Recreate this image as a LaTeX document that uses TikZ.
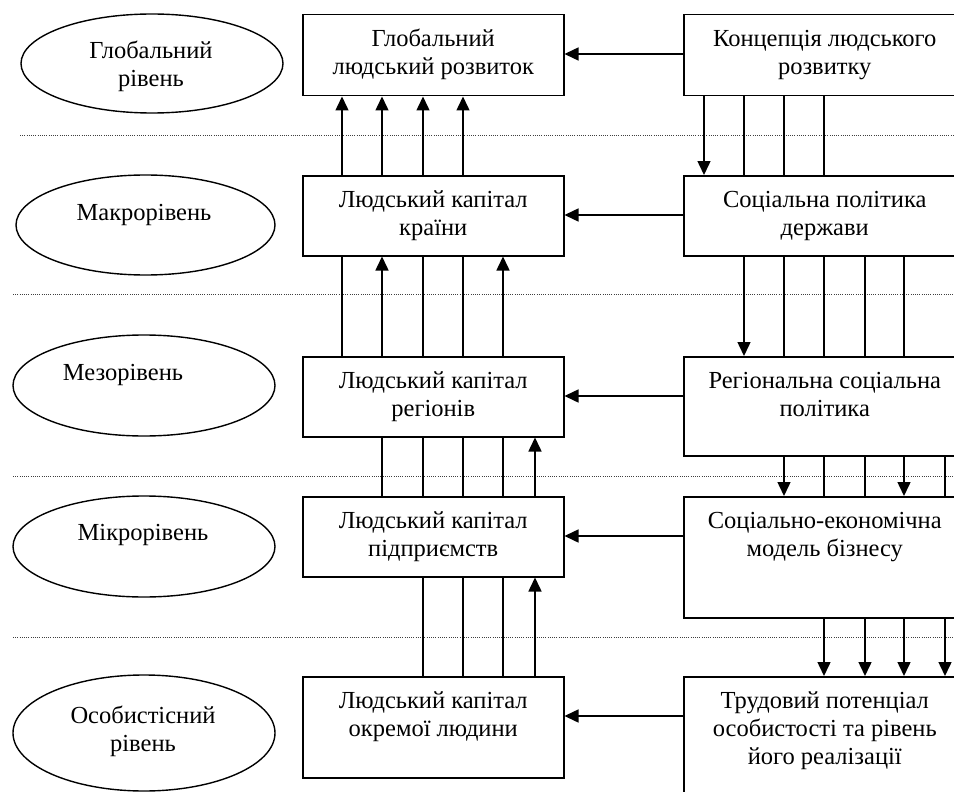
\documentclass[tikz,border=0pt]{standalone}
\usepackage{fontspec}
\setmainfont{Liberation Serif}
\usetikzlibrary{arrows.meta,shapes.geometric}
\newcommand{\fs}{\rule{0pt}{23pt}}
\begin{document}
\begin{tikzpicture}[x=1pt,y=-1pt,
  box/.style={draw, line width=1.5pt, rectangle, inner sep=0pt, anchor=north west},
  lvl/.style={draw, line width=1.4pt, ellipse, inner sep=0pt},
  txt/.style={align=center, inner sep=0pt, font=\fontsize{24.5}{28}\selectfont},
  etxt/.style={txt, anchor=north},
  btxt/.style={txt, anchor=north, yshift=-9pt},
  con/.style={line width=1.5pt},
  arr/.style={con, -{Triangle[length=14pt,width=13pt]}},
  sep/.style={line width=0.7pt, dash pattern=on 1pt off 1.2pt, black!75}
]
\useasboundingbox (0,0) rectangle (954,792);
\clip (0,0) rectangle (954,792);

% separators
\draw[sep] (20,135) -- (954,135);
\draw[sep] (13,294) -- (954,294);
\draw[sep] (13,476) -- (954,476);
\draw[sep] (13,637) -- (954,637);

% level ellipses
\node[lvl, minimum width=262pt, minimum height=99pt] (e1) at (152,63.5) {};
\node[lvl, minimum width=259pt, minimum height=100pt] (e2) at (145.5,225) {};
\node[lvl, minimum width=262pt, minimum height=101pt] (e3) at (144,385.5) {};
\node[lvl, minimum width=262pt, minimum height=101pt] (e4) at (144,546.5) {};
\node[lvl, minimum width=262pt, minimum height=116pt] (e5) at (144,733) {};
\node[etxt] at (151,35) {\fs Глобальний\\рівень};
\node[etxt] at (144,197) {\fs Макрорівень};
\node[etxt] at (123,357) {\fs Мезорівень};
\node[etxt] at (143,517) {\fs Мікрорівень};
\node[etxt] at (143,700) {\fs Особистісний\\рівень};

% left boxes
\node[box, minimum width=261pt, minimum height=81pt] (l1) at (302,14) {};
\node[box, minimum width=261pt, minimum height=80pt] (l2) at (302,175) {};
\node[box, minimum width=261pt, minimum height=80pt] (l3) at (302,356) {};
\node[box, minimum width=261pt, minimum height=80pt] (l4) at (302,496) {};
\node[box, minimum width=261pt, minimum height=101pt] (l5) at (302,676) {};
\node[btxt] at (l1.north) {\fs Глобальний\\людський розвиток};
\node[btxt] at (l2.north) {\fs Людський капітал\\країни};
\node[btxt] at (l3.north) {\fs Людський капітал\\регіонів};
\node[btxt] at (l4.north) {\fs Людський капітал\\підприємств};
\node[btxt] at (l5.north) {\fs Людський капітал\\окремої людини};

% right boxes
\node[box, minimum width=282pt, minimum height=81pt] (r1) at (683,14) {};
\node[box, minimum width=282pt, minimum height=80pt] (r2) at (683,175) {};
\node[box, minimum width=282pt, minimum height=99pt] (r3) at (683,356) {};
\node[box, minimum width=282pt, minimum height=121pt] (r4) at (683,496) {};
\node[box, minimum width=282pt, minimum height=140pt] (r5) at (683,676) {};
\node[btxt] at (r1.north) {\fs Концепція людського\\розвитку};
\node[btxt] at (r2.north) {\fs Соціальна політика\\держави};
\node[btxt] at (r3.north) {\fs Регіональна соціальна\\політика};
\node[btxt] at (r4.north) {\fs Соціально-економічна\\модель бізнесу};
\node[btxt] at (r5.north) {\fs Трудовий потенціал\\особистості та рівень\\його реалізації};

% horizontal arrows
\foreach \i in {1,...,5}
  \draw[arr] ([yshift=-40pt]r\i.north west) -- ([yshift=-40pt]l\i.north east);

% left verticals
\foreach \o in {40,80,121,161}
  \draw[arr] ([xshift=\o pt]l2.north west) -- ([xshift=\o pt]l1.south west);
\foreach \o in {40,121,161}
  \draw[con] ([xshift=\o pt]l3.north west) -- ([xshift=\o pt]l2.south west);
\foreach \o in {80,201}
  \draw[arr] ([xshift=\o pt]l3.north west) -- ([xshift=\o pt]l2.south west);
\foreach \o in {80,121,161,201}
  \draw[con] ([xshift=\o pt]l4.north west) -- ([xshift=\o pt]l3.south west);
\draw[arr] ([xshift=233pt]l4.north west) -- ([xshift=233pt]l3.south west);
\foreach \o in {121,161,201}
  \draw[con] ([xshift=\o pt]l5.north west) -- ([xshift=\o pt]l4.south west);
\draw[arr] ([xshift=233pt]l5.north west) -- ([xshift=233pt]l4.south west);

% right verticals
\draw[arr] ([xshift=21pt]r1.south west) -- ([xshift=21pt]r2.north west);
\foreach \o in {61,101,141}
  \draw[con] ([xshift=\o pt]r1.south west) -- ([xshift=\o pt]r2.north west);
\draw[arr] ([xshift=61pt]r2.south west) -- ([xshift=61pt]r3.north west);
\foreach \o in {101,141,182,221}
  \draw[con] ([xshift=\o pt]r2.south west) -- ([xshift=\o pt]r3.north west);
\foreach \o in {101,221}
  \draw[arr] ([xshift=\o pt]r3.south west) -- ([xshift=\o pt]r4.north west);
\foreach \o in {141,182,262}
  \draw[con] ([xshift=\o pt]r3.south west) -- ([xshift=\o pt]r4.north west);
\foreach \o in {141,182,221,262}
  \draw[arr] ([xshift=\o pt]r4.south west) -- ([xshift=\o pt]r5.north west);
\end{tikzpicture}
\end{document}
